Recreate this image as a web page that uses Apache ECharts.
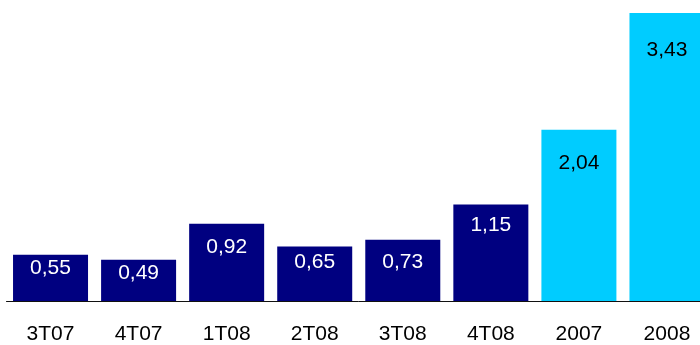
<!DOCTYPE html>
<html>
<head>
<meta charset="utf-8">
<script src="https://cdn.jsdelivr.net/npm/echarts@6/dist/echarts.min.js"></script>
<style>html,body{margin:0;padding:0;background:#fff;overflow:hidden;width:700px;height:345px;}#c{width:711px;height:345px;}</style>
</head>
<body>
<div id="c"></div>
<script>
const categories = ['3T07', '4T07', '1T08', '2T08', '3T08', '4T08', '2007', '2008'];
const values = [0.55, 0.49, 0.92, 0.65, 0.73, 1.15, 2.04, 3.43];
const isAnnual = [false, false, false, false, false, false, true, true];

// label distance from bar top (style only)
const labelDistance = [3, 3, 13, 5, 12, 10, 23.5, 26.5];

const chart = echarts.init(document.getElementById('c'), null, {renderer: 'canvas'});
const font = '"Liberation Sans", Arial, sans-serif';
chart.setOption({
  animation: false,
  grid: {left: 6.5, right: 0, top: 7, bottom: 41, containLabel: false},
  xAxis: {
    type: 'category',
    data: categories,
    axisLine: {show: true, lineStyle: {color: '#111', width: 1}},
    axisTick: {show: false},
    axisLabel: {color: '#000', fontSize: 21, fontFamily: font, margin: 23}
  },
  yAxis: {
    type: 'value', min: 0, max: 3.5,
    show: false, splitLine: {show: false}
  },
  series: [{
    type: 'bar',
    barWidth: 75,
    data: values.map((v, i) => ({
      value: v,
      itemStyle: {color: isAnnual[i] ? '#00CCFF' : '#000080'},
      label: {
        show: true,
        position: 'insideTop',
        distance: labelDistance[i],
        color: isAnnual[i] ? '#000' : '#fff',
        fontSize: 21,
        fontFamily: font,
        formatter: () => v.toFixed(2).replace('.', ',')
      }
    }))
  }]
});
</script>
</body>
</html>
